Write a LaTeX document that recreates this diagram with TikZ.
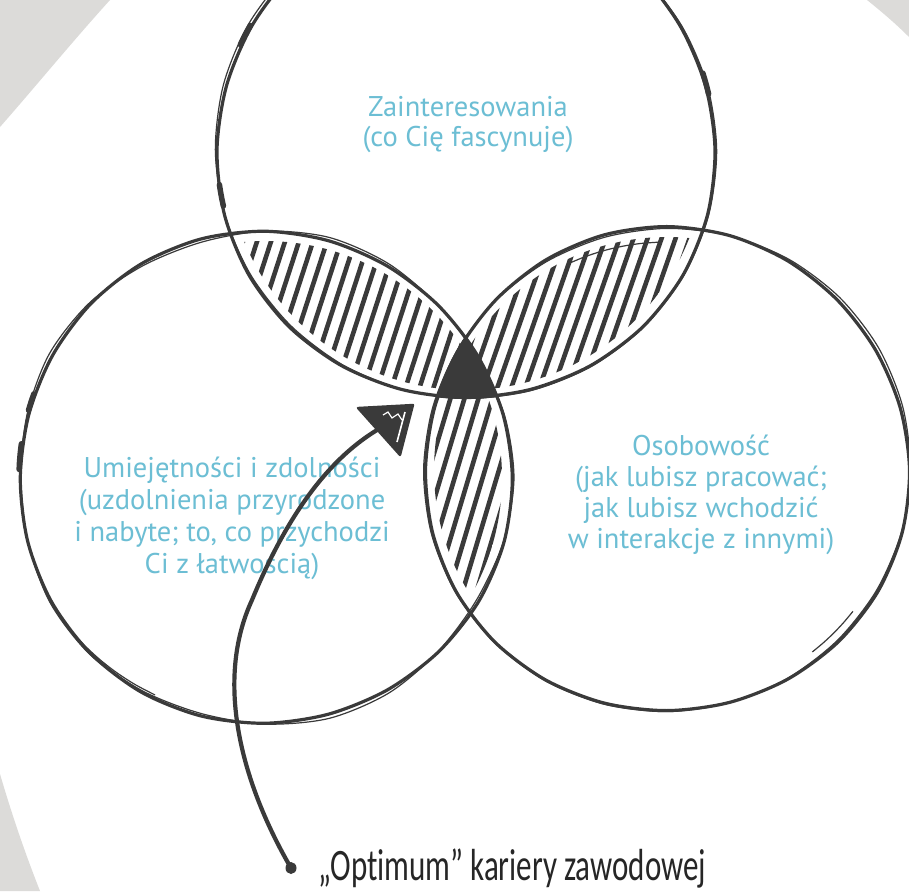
\documentclass[tikz,border=0pt]{standalone}
\usepackage{fontspec}
\setmainfont{PT Sans}
\newfontfamily\handfont[Ligatures=NoCommon]{Carlito}
\usetikzlibrary{calc}
\definecolor{ink}{HTML}{3A3A3A}
\definecolor{bluetext}{RGB}{108,190,212}
\definecolor{bggray}{HTML}{DCDBD9}
\begin{document}
\begin{tikzpicture}[x=1pt,y=-1pt,
  circ/.style={draw=ink, line width=3.2pt},
  circthin/.style={draw=ink, line width=1.2pt},
  heavy/.style={draw=ink, line width=5.5pt, line cap=round},
  hatchline/.style={draw=ink, line width=4.6pt, line cap=round},
  lbl/.style={text=bluetext, font=\fontsize{28.5}{32}\selectfont, anchor=base, inner sep=0pt},
  pointer/.style={draw=ink, line width=4.2pt, line cap=round}
]
\clip (0,0) rectangle (909,891);
\fill[white] (0,0) rectangle (909,891);
% grey background corners
\fill[bggray] (0,0) -- (110,0) .. controls (72,42) and (36,86) .. (0,127) -- cycle;
\fill[bggray] (0,774) .. controls (12,815) and (25,853) .. (40,891) -- (0,891) -- cycle;
\fill[bggray] (867,0) .. controls (882,12) and (896,24) .. (909,37) -- (909,0) -- cycle;

\coordinate (T) at (466,150);
\coordinate (L) at (265,478);
\coordinate (R) at (667,470);

% hatching of the lenses
\begin{scope}
  \clip (T) circle[radius=240pt];
  \clip (L) circle[radius=237pt];
  \foreach \x in {-200,-186,...,900} \draw[hatchline] (\x,700) -- ++(195,-600);
\end{scope}
\begin{scope}
  \clip (T) circle[radius=240pt];
  \clip (R) circle[radius=233pt];
  \foreach \x in {-200,-186,...,900} \draw[hatchline] (\x,700) -- ++(210,-600);
\end{scope}
\begin{scope}
  \clip (L) circle[radius=237pt];
  \clip (R) circle[radius=233pt];
  \foreach \x in {-200,-186,...,900} \draw[hatchline] (\x,700) -- ++(180,-600);
\end{scope}
% triple intersection
\begin{scope}
  \clip (T) circle[radius=249pt];
  \clip (L) circle[radius=246pt];
  \fill[ink] (R) circle[radius=242pt];
\end{scope}

% sketchy circles
\draw[circ] plot[smooth cycle, domain=0:345, samples=24, variable=\t]
  ({466+(249+1.5*sin(3*\t))*cos(\t)}, {150+(249+1.5*sin(3*\t))*sin(\t)});
\draw[circthin] plot[smooth cycle, domain=0:345, samples=24, variable=\t]
  ({466+(249.5+1.8*sin(2*\t+40))*cos(\t)}, {150+(249.5+1.8*sin(2*\t+40))*sin(\t)});
\draw[circ] plot[smooth cycle, domain=0:345, samples=24, variable=\t]
  ({265+(246+1.5*sin(3*\t+60))*cos(\t)}, {478+(246+1.5*sin(3*\t+60))*sin(\t)});
\draw[circthin] plot[smooth cycle, domain=0:345, samples=24, variable=\t]
  ({265+(246.5+2.5*sin(5*\t+100))*cos(\t)}, {478+(246.5+2.5*sin(5*\t+100))*sin(\t)});
\draw[circ] plot[smooth cycle, domain=0:345, samples=24, variable=\t]
  ({667+(242+1.5*sin(3*\t+20))*cos(\t)}, {470+(242+1.5*sin(3*\t+20))*sin(\t)});
\draw[circthin] plot[smooth cycle, domain=0:345, samples=24, variable=\t]
  ({667+(242.5+1.8*sin(2*\t+150))*cos(\t)}, {470+(242.5+1.8*sin(2*\t+150))*sin(\t)});

% heavier pen marks along the circles
\draw[heavy] plot[smooth, domain=205:210, samples=4, variable=\t] ({466+249*cos(\t)},{150+249*sin(\t)});
\draw[heavy] plot[smooth, domain=167:172, samples=4, variable=\t] ({466+249*cos(\t)},{150+249*sin(\t)});
\draw[heavy] plot[smooth, domain=342:347, samples=4, variable=\t] ({466+249*cos(\t)},{150+249*sin(\t)});
\draw[heavy] plot[smooth, domain=182:188, samples=4, variable=\t] ({265+246*cos(\t)},{478+246*sin(\t)});
\draw[heavy] plot[smooth, domain=196:200, samples=4, variable=\t] ({265+246*cos(\t)},{478+246*sin(\t)});
\draw[circthin] plot[smooth, domain=245:268, samples=6, variable=\t] ({667+236*cos(\t)},{478+236*sin(\t)});
\draw[circthin] plot[smooth, domain=38:52, samples=5, variable=\t] ({667+236*cos(\t)},{466+236*sin(\t)});
\draw[circthin] plot[smooth, domain=115:140, samples=6, variable=\t] ({259+246*cos(\t)},{472+246*sin(\t)});

% labels
\node[lbl] (z1) at (468,116) {Zainteresowania};
\node[lbl] (z2) at (468,146) {(co Cię fascynuje)};
\node[lbl] (u1) at (232,477) {Umiejętności i zdolności};
\node[lbl] (u2) at (232,509) {(uzdolnienia przyrodzone};
\node[lbl] (u3) at (232,541) {i nabyte; to, co przychodzi};
\node[lbl] (u4) at (232,573) {Ci z łatwością)};
\node[lbl] (o1) at (701,455) {Osobowość};
\node[lbl] (o2) at (701,486) {(jak lubisz pracować;};
\node[lbl] (o3) at (701,517) {jak lubisz wchodzić};
\node[lbl] (o4) at (701,548) {w interakcje z innymi)};

\node[anchor=base west, inner sep=0pt, text=black!85, font=\handfont\fontsize{31}{38}\selectfont] (opt) at (318,880) {\scalebox{1}[1.45]{„Optimum” kariery zawodowej}};

% pointer
\coordinate (dot) at (291,868);
\coordinate (bend) at (252,600);
\coordinate (tip) at (396,420);
\draw[pointer] (dot) .. controls (240,780) and (215,680) .. (bend) .. controls (285,520) and (330,450) .. (tip);
\fill[ink] (dot) ellipse[x radius=5.5pt, y radius=6pt];
\fill[ink] (358,408) -- (413,405) -- (400,455) -- cycle;
\draw[ink, line width=2.4pt, line join=round] (358,408) -- (413,405) -- (400,455) -- cycle;
\draw[white, line width=1.6pt] (405,412) -- (397,442);
\draw[white, line width=1.2pt] (383,415) -- (388,412) -- (392,418) -- (398,414) -- (402,420);
\end{tikzpicture}
\end{document}
